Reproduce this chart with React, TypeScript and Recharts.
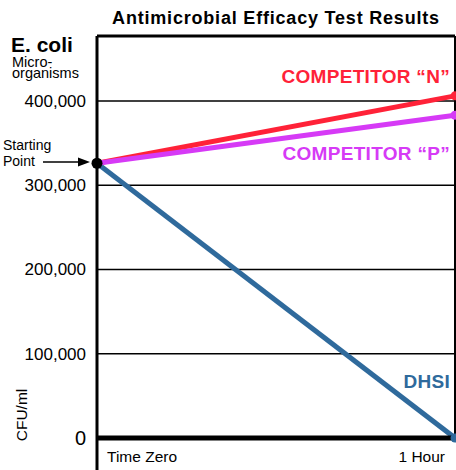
import React from 'react';
import {
  LineChart,
  Line,
  XAxis,
  YAxis,
  CartesianGrid,
  ReferenceLine,
} from 'recharts';

const times = ['Time Zero', '1 Hour'];
const competitorN = [326000, 406000];
const competitorP = [326000, 383000];
const dhsi = [326000, 0];
const yTicks = [0, 100000, 200000, 300000, 400000];
const yMax = 477000;

const FONT = '"Liberation Sans", Arial, Helvetica, sans-serif';

const data = times.map((t, i) => ({
  time: t,
  n: competitorN[i],
  p: competitorP[i],
  dhsi: dhsi[i],
}));

const colors = {
  n: '#FF2238',
  p: '#D63AF6',
  dhsi: '#2F6A9C',
};

const YTick = (props: any) => {
  const { x, y, payload } = props;
  const isZero = payload.value === 0;
  return (
    <text
      x={x - 11}
      y={y + (isZero ? 7 : 6)}
      textAnchor="end"
      fontSize={isZero ? 20 : 17}
      fontFamily={FONT}
      fill="#000"
    >
      {payload.value.toLocaleString('en-US')}
    </text>
  );
};

const XTick = (props: any) => {
  const { x, y, payload, index } = props;
  const first = index === 0;
  return (
    <g>
      {first && <line x1={x} x2={x} y1={y} y2={y + 34} stroke="#000" strokeWidth={3} />}
      <text
        x={first ? x + 10 : x - 10}
        y={y + 24}
        textAnchor={first ? 'start' : 'end'}
        fontSize={15.5}
        fontFamily={FONT}
        fill="#000"
      >
        {payload.value}
      </text>
    </g>
  );
};

// end dot in series colour, black starting-point dot at index 0
const makeDot = (color: string, showStart: boolean) => (props: any) => {
  const { cx, cy, index } = props;
  if (index === 0) {
    return showStart ? <circle key={index} cx={cx} cy={cy} r={5.5} fill="#000" /> : <g key={index} />;
  }
  return <circle key={index} cx={cx} cy={cy} r={4.5} fill={color} />;
};

const makeLabel = (text: string, color: string, dy: number) => (props: any) => {
  const { x, y, index } = props;
  if (index !== 1) return <g key={index} />;
  return (
    <text
      key={index}
      x={x - 5}
      y={y + dy}
      textAnchor="end"
      fontSize={19}
      fontWeight="bold"
      fontFamily={FONT}
      letterSpacing={0.3}
      fill={color}
    >
      {text}
    </text>
  );
};

const App: React.FC = () => {
  return (
    <div
      style={{
        position: 'absolute',
        left: 0,
        top: 0,
        width: 456,
        height: 470,
        overflow: 'hidden',
        background: '#fff',
        fontFamily: FONT,
      }}
    >
      <div
        style={{
          position: 'absolute',
          left: 97,
          width: 358,
          top: 8,
          textAlign: 'center',
          fontWeight: 'bold',
          fontSize: 18,
          letterSpacing: 0.8,
          lineHeight: '20px',
          whiteSpace: 'nowrap',
        }}
      >
        Antimicrobial Efficacy Test Results
      </div>
      <div style={{ position: 'absolute', left: 11, top: 34, fontWeight: 'bold', fontSize: 21, lineHeight: '22px' }}>
        E. coli
      </div>
      <svg style={{ position: 'absolute', left: 0, top: 0 }} width={100} height={200}>
        <text x={12} y={67} fontSize={14.5} fontFamily={FONT}>Micro-</text>
        <text x={12} y={78} fontSize={14.5} fontFamily={FONT}>organisms</text>
        <text x={3} y={150} fontSize={14} fontFamily={FONT}>Starting</text>
        <text x={3} y={166} fontSize={14} fontFamily={FONT}>Point</text>
        <line x1={43} y1={162} x2={80} y2={162} stroke="#000" strokeWidth={1.5} />
        <polygon points="90,162 78,157.5 78,166.5" fill="#000" />
      </svg>
      <div
        style={{
          position: 'absolute',
          left: 22,
          top: 415,
          fontSize: 15.5,
          transform: 'translate(-50%, -50%) rotate(-90deg)',
          whiteSpace: 'nowrap',
        }}
      >
        CFU/ml
      </div>
      <div style={{ position: 'absolute', left: 0, top: 0 }}>
        <LineChart
          width={462}
          height={470}
          data={data}
          margin={{ top: 36, right: 7, bottom: 0, left: 0 }}
        >
          <CartesianGrid horizontal vertical={false} stroke="#000" strokeWidth={1.5} />
          <XAxis
            dataKey="time"
            height={32}
            axisLine={{ stroke: '#000', strokeWidth: 5 }}
            tickLine={false}
            tickSize={0}
            tickMargin={0}
            interval={0}
            tick={<XTick />}
          />
          <YAxis
            width={97}
            domain={[0, yMax]}
            ticks={yTicks}
            axisLine={{ stroke: '#000', strokeWidth: 3 }}
            tickLine={false}
            tickSize={0}
            tickMargin={0}
            tick={<YTick />}
          />
          <ReferenceLine y={yMax} stroke="#000" strokeWidth={3} />
          <ReferenceLine x="1 Hour" stroke="#000" strokeWidth={2} />
          <Line
            dataKey="dhsi"
            stroke={colors.dhsi}
            strokeWidth={5}
            dot={makeDot(colors.dhsi, false)}
            label={makeLabel('DHSI', colors.dhsi, -50)}
            isAnimationActive={false}
          />
          <Line
            dataKey="n"
            stroke={colors.n}
            strokeWidth={5}
            dot={makeDot(colors.n, false)}
            label={makeLabel('COMPETITOR “N”', colors.n, -13)}
            isAnimationActive={false}
          />
          <Line
            dataKey="p"
            stroke={colors.p}
            strokeWidth={5}
            dot={makeDot(colors.p, true)}
            label={makeLabel('COMPETITOR “P”', colors.p, 45)}
            isAnimationActive={false}
          />
        </LineChart>
      </div>
    </div>
  );
};

export default App;
